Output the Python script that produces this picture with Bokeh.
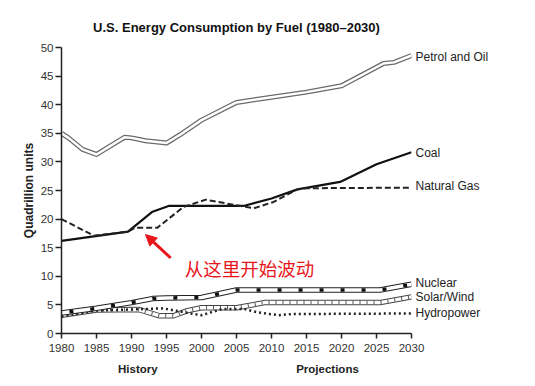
from bokeh.plotting import figure
from bokeh.models import Range1d, Label, Arrow, NormalHead, FixedTicker, LinearAxis
from bokeh.embed import file_html
from bokeh.resources import INLINE

# ---- data ----
petrol_years = [1980, 1981, 1983, 1985, 1987, 1989, 1990, 1992, 1995, 1997, 2000, 2005, 2010, 2015, 2020, 2026, 2027.5, 2030]
petrol_vals  = [35.0, 34.2, 32.2, 31.3, 32.8, 34.3, 34.2, 33.7, 33.3, 34.8, 37.3, 40.4, 41.3, 42.2, 43.3, 47.2, 47.4, 48.6]

coal_years = [1980, 1989.5, 1993, 1995.3, 2006, 2010, 2013.7, 2019.8, 2025, 2030]
coal_vals  = [16.2, 17.8, 21.3, 22.3, 22.3, 23.6, 25.2, 26.5, 29.6, 31.7]

gas_years = [1980, 1984.6, 1989.5, 1990.5, 1993.7, 1997.4, 2000.6, 2004.6, 2007.5, 2010.3, 2013.7, 2015, 2030]
gas_vals  = [20.0, 17.1, 17.8, 18.5, 18.5, 22.1, 23.4, 22.5, 21.9, 23.0, 25.2, 25.4, 25.5]

nuclear_years = [1980, 1985, 1990, 1993, 1995, 2000, 2005, 2025.5, 2030]
nuclear_vals  = [3.6, 4.4, 5.4, 6.1, 6.2, 6.3, 7.6, 7.6, 8.6]

solar_years = [1980, 1985, 1991, 1994, 1996, 1998, 2000, 2005, 2009, 2025.5, 2030]
solar_vals  = [3.2, 4.1, 4.2, 3.1, 3.1, 4.0, 4.5, 4.5, 5.4, 5.4, 6.4]

hydro_years = [1980, 1985, 1990, 1994.5, 1998, 2000, 2003, 2006, 2008, 2011, 2013, 2030]
hydro_vals  = [3.0, 4.0, 4.2, 4.4, 3.6, 3.2, 4.3, 4.3, 3.7, 3.2, 3.4, 3.5]

x_ticks = [1980, 1985, 1990, 1995, 2000, 2005, 2010, 2015, 2020, 2025, 2030]
y_ticks = [0, 5, 10, 15, 20, 25, 30, 35, 40, 45, 50]

series_labels = ["Petrol and Oil", "Coal", "Natural Gas", "Nuclear", "Solar/Wind", "Hydropower"]
label_y = [48.4, 31.5, 25.7, 8.9, 6.3, 3.5]

period_labels = ["History", "Projections"]
period_x = [1990.9, 2018.0]

FONT = "Liberation Sans"

p = figure(width=519, height=380, output_backend="svg", toolbar_location=None,
           x_range=Range1d(1980, 2030), y_range=Range1d(0, 50),
           min_border_left=61, min_border_right=108, min_border_top=47, min_border_bottom=47,
           title="U.S. Energy Consumption by Fuel (1980\u20132030)")
p.outline_line_color = None
p.grid.visible = False
p.background_fill_color = "white"

p.title.align = "center"
p.title.text_font = FONT
p.title.text_font_size = "13px"
p.title.text_font_style = "bold"
p.title.text_color = "#111111"
p.title.standoff = 26

for ax in (p.xaxis[0], p.yaxis[0]):
    ax.axis_line_color = "#222222"
    ax.axis_line_width = 1.5
    ax.major_tick_line_color = "#222222"
    ax.major_tick_line_width = 1.5
    ax.major_tick_in = 0
    ax.minor_tick_line_color = None
    ax.major_label_text_font = FONT
    ax.major_label_text_font_size = "11.5px"
    ax.major_label_text_color = "#333333"
p.xaxis.ticker = FixedTicker(ticks=x_ticks)
p.yaxis.ticker = FixedTicker(ticks=y_ticks)
p.xaxis[0].major_tick_out = 5
p.xaxis[0].major_label_standoff = 5
p.yaxis.major_tick_out = 6
p.yaxis.major_label_standoff = 2
p.yaxis.axis_label = "Quadrillion units"
p.yaxis.axis_label_text_font = FONT
p.yaxis.axis_label_text_font_size = "12px"
p.yaxis.axis_label_text_font_style = "bold"
p.yaxis.axis_label_text_color = "#222222"
p.yaxis.axis_label_standoff = 2

# right-side series labels as an axis without line/ticks
right_ax = LinearAxis(ticker=FixedTicker(ticks=label_y),
                      major_label_overrides={v: t for v, t in zip(label_y, series_labels)})
right_ax.axis_line_color = None
right_ax.major_tick_line_color = None
right_ax.minor_tick_line_color = None
right_ax.major_tick_out = 0
right_ax.major_tick_in = 0
right_ax.major_label_standoff = 4
right_ax.major_label_text_font = FONT
right_ax.major_label_text_font_size = "12px"
right_ax.major_label_text_color = "#222222"
p.add_layout(right_ax, "right")

# History / Projections as a second bottom axis
bottom_ax = LinearAxis(ticker=FixedTicker(ticks=period_x),
                       major_label_overrides={v: t for v, t in zip(period_x, period_labels)})
bottom_ax.axis_line_color = None
bottom_ax.major_tick_line_color = None
bottom_ax.minor_tick_line_color = None
bottom_ax.major_tick_out = 0
bottom_ax.major_tick_in = 0
bottom_ax.major_label_standoff = 8
bottom_ax.major_label_text_font = FONT
bottom_ax.major_label_text_font_size = "11.5px"
bottom_ax.major_label_text_font_style = "bold"
bottom_ax.major_label_text_color = "#222222"
p.add_layout(bottom_ax, "below")

# Petrol: double line
p.line(petrol_years, petrol_vals, line_color="#6a6a6a", line_width=5, line_join="round")
p.line(petrol_years, petrol_vals, line_color="white", line_width=2.5, line_join="round")

# Coal
p.line(coal_years, coal_vals, line_color="#111111", line_width=2.2, line_join="round")

# Natural gas dashed
p.line(gas_years, gas_vals, line_color="#222222", line_width=2, line_dash="6 3", line_join="round")

# Solar/Wind: hatched double line
p.line(solar_years, solar_vals, line_color="#444444", line_width=5.5, line_join="round")
p.line(solar_years, solar_vals, line_color="white", line_width=3.5, line_join="round")
p.line(solar_years, solar_vals, line_color="#555555", line_width=3.5, line_dash="1 6", line_join="round")

# Hydropower dotted
p.line(hydro_years, hydro_vals, line_color="#222222", line_width=2.5, line_dash="2 3")

# Nuclear: double line with square marks
p.line(nuclear_years, nuclear_vals, line_color="#222222", line_width=5.5, line_join="round")
p.line(nuclear_years, nuclear_vals, line_color="white", line_width=3.5, line_join="round")
p.line(nuclear_years, nuclear_vals, line_color="#111111", line_width=3.5, line_dash="4 17",
       line_dash_offset=-8)

# red annotation
p.add_layout(Arrow(end=NormalHead(size=11, fill_color="#e8161b", line_color="#e8161b"),
                   x_start=1995.6, y_start=13.2, x_end=1992.0, y_end=17.3,
                   line_color="#e8161b", line_width=3))
p.add_layout(Label(x=1997.6, y=11.5, text="从这里开始波动", text_font="Noto Sans CJK SC",
                   text_font_size="18.5px", text_color="#e8161b", text_baseline="middle", text_align="left"))

open("out.html", "w").write(file_html(p, INLINE))
